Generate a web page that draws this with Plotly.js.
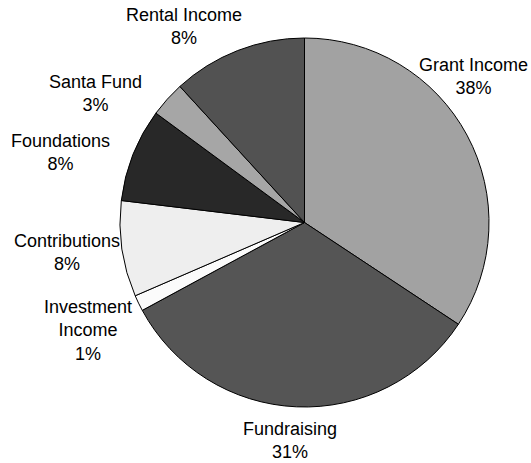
<!DOCTYPE html>
<html>
<head>
<meta charset="utf-8">
<script src="https://cdn.plot.ly/plotly-3.0.1.min.js"></script>
<style>
  html, body { margin: 0; padding: 0; background: #fff; }
  #chart { width: 531px; height: 463px; }
</style>
</head>
<body>
<div id="chart"></div>
<script>
// slice order is clockwise from 12 o'clock
const labels = ["Grant Income", "Fundraising", "Investment<br>Income", "Contributions", "Foundations", "Santa Fund", "Rental Income"];
const values = [34.3, 32.8, 1.4, 8.4, 8.2, 3.1, 11.8];
// percentages printed on the chart
const pctText = ["38%", "31%", "1%", "8%", "8%", "3%", "8%"];
const colors = ["#a2a2a2", "#555555", "#fbfbfb", "#eeeeee", "#282828", "#a6a6a6", "#525252"];

// label block centres in pixels (layout only)
const labelPx = [[473, 76], [289.5, 440], [88, 330], [67, 253], [60, 152], [95, 94], [184, 27]];

const W = 531, H = 463;
const margin = {l: 120, r: 42, t: 38, b: 56};
const plotW = W - margin.l - margin.r;
const plotH = H - margin.t - margin.b;
const FONT = "Liberation Sans, Arial, Helvetica, sans-serif";

const annotations = labels.map((lab, i) => ({
  xref: "paper",
  yref: "paper",
  x: (labelPx[i][0] - margin.l) / plotW,
  y: 1 - (labelPx[i][1] - margin.t) / plotH,
  xanchor: "center",
  yanchor: "middle",
  align: "center",
  showarrow: false,
  text: lab + "<br>" + pctText[i],
  font: {family: FONT, size: 18, color: "#000"}
}));

const trace = {
  type: "pie",
  labels: labels,
  values: values,
  sort: false,
  direction: "clockwise",
  rotation: 0,
  marker: {colors: colors, line: {color: "#000", width: 1}},
  textinfo: "none",
  hoverinfo: "none",
  automargin: false,
  showlegend: false
};

const layout = {
  width: W,
  height: H,
  margin: margin,
  paper_bgcolor: "#fff",
  showlegend: false,
  font: {family: FONT, size: 18, color: "#000"},
  annotations: annotations
};

Plotly.newPlot("chart", [trace], layout, {staticPlot: true});
</script>
</body>
</html>
